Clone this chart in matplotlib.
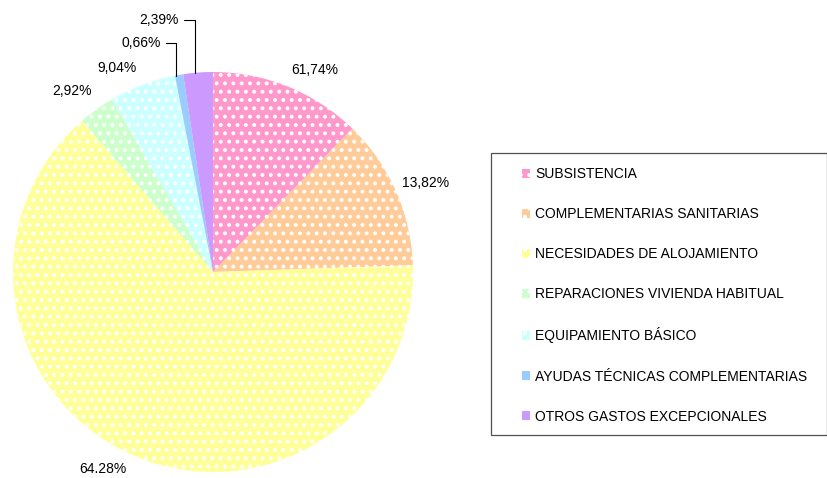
import matplotlib
matplotlib.use("Agg")
import matplotlib.pyplot as plt
from matplotlib.patches import Rectangle
import numpy as np

plt.rcParams["font.family"] = ["Liberation Sans", "DejaVu Sans"]
plt.rcParams["hatch.linewidth"] = 1.6

# Categories, slice shares and the printed percentage labels
categories = [
    "SUBSISTENCIA",
    "COMPLEMENTARIAS SANITARIAS",
    "NECESIDADES DE ALOJAMIENTO",
    "REPARACIONES VIVIENDA HABITUAL",
    "EQUIPAMIENTO BÁSICO",
    "AYUDAS TÉCNICAS COMPLEMENTARIAS",
    "OTROS GASTOS EXCEPCIONALES",
]
shares = [12.3, 12.2, 64.28, 2.92, 5.4, 0.66, 2.39]
pct_labels = ["61,74%", "13,82%", "64.28%", "2,92%", "9,04%", "0,66%", "2,39%"]

colors = ["#FF99CC", "#FFCC99", "#FFFF99", "#CCFFCC", "#CCFFFF", "#99CCFF", "#CC99FF"]
patterned = [True, True, True, True, True, False, False]

W, H = 828, 478
fig = plt.figure(figsize=(W / 100, H / 100), dpi=100)
fig.patch.set_facecolor("white")

# pie centre at (213, 272) px, radius 200 px
cx, cy, r = 213, 272, 200
ax = fig.add_axes([(cx - r) / W, (H - cy - r) / H, 2 * r / W, 2 * r / H])

wedges, _ = ax.pie(
    shares,
    colors=colors,
    startangle=90,
    counterclock=False,
    radius=1.0,
    wedgeprops=dict(linewidth=0, edgecolor="white"),
)
for w, pat in zip(wedges, patterned):
    if pat:
        w.set_hatch("..")
ax.set_xlim(-1, 1)
ax.set_ylim(-1, 1)
ax.set_aspect("equal")
ax.axis("off")


def px(x, y):
    return ((x - cx) / r, (cy - y) / r)


# percentage labels placed around the pie
label_pos = [(315, 70), (426, 183), (103, 469), (72, 91), (117, 68)]
for txt, (lx, ly) in zip(pct_labels[:5], label_pos):
    ax.text(*px(lx, ly), txt, ha="center", va="center", fontsize=10,
            color="black", clip_on=False)

# small slices get leader lines
leader_pos = [(161, 43), (179, 20)]
for i, (lx, ly) in zip([5, 6], leader_pos):
    w = wedges[i]
    mid = np.deg2rad((w.theta1 + w.theta2) / 2 + 1.0)
    ax.annotate(
        pct_labels[i],
        xy=(np.cos(mid), np.sin(mid)),
        xytext=px(lx, ly),
        ha="right", va="center", fontsize=10, color="black",
        annotation_clip=False,
        arrowprops=dict(arrowstyle="-", color="black", lw=0.8,
                        shrinkA=1.5, shrinkB=0, relpos=(1, 0.5),
                        connectionstyle="angle,angleA=0,angleB=90,rad=0"),
    )

# legend with a boxed frame
fig.legend(
    wedges, categories,
    loc="upper left",
    bbox_to_anchor=(522 / W, 1 - 167 / H),
    frameon=False,
    fontsize=10,
    handlelength=0.6,
    handleheight=0.6,
    handletextpad=0.35,
    labelspacing=1.88,
    borderpad=0,
    borderaxespad=0,
)
fig.patches.append(Rectangle((491 / W, 1 - 435 / H), (827 - 491) / W, (435 - 153) / H,
                             transform=fig.transFigure, fill=False,
                             edgecolor="#505050", linewidth=0.9))

fig.savefig("out.png", dpi=100, facecolor="white")
